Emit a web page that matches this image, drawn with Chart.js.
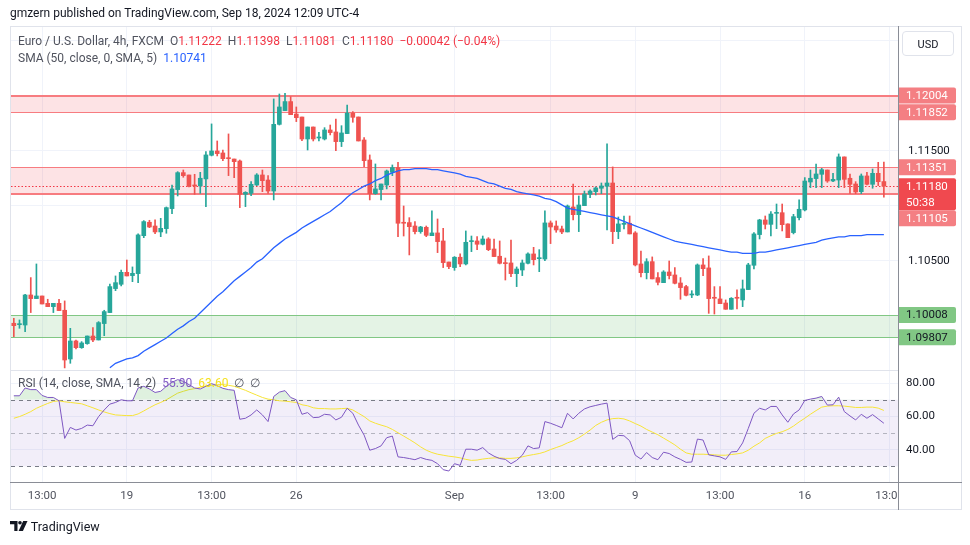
<!DOCTYPE html>
<html>
<head>
<meta charset="utf-8">
<script src="https://cdn.jsdelivr.net/npm/chart.js@4.4.1/dist/chart.umd.min.js"></script>
<style>
  body { margin: 0; background: #fff; font-family: Roboto, "Liberation Sans", sans-serif; }
  #box { position: relative; width: 970px; height: 545px; overflow: hidden; }
  #c { position: absolute; left: 0; top: 0; }
  .t { position: absolute; white-space: nowrap; font-size: 12px; color: #131722; }
  .lg { color: #50535e; }
  .r { color: #f23645; }
  #usd { position: absolute; left: 902px; top: 31px; width: 52px; height: 25px; border: 1px solid #e0e3eb;
         border-radius: 4px; font-size: 11px; line-height: 25px; text-align: center; color: #131722; box-sizing: border-box; }
</style>
</head>
<body>
<div id="box">
  <canvas id="c" width="970" height="545"></canvas>
  <div class="t" style="left:10px;top:6px;">gmzern published on TradingView.com, Sep 18, 2024 12:09 UTC-4</div>
  <div class="t lg" style="left:18px;top:34px;">Euro / U.S. Dollar, 4h, FXCM&nbsp; O<span class="r">1.11222</span>&nbsp; H<span class="r">1.11398</span>&nbsp; L<span class="r">1.11081</span>&nbsp; C<span class="r">1.11180</span>&nbsp; <span class="r">−0.00042 (−0.04%)</span></div>
  <div class="t lg" style="left:18px;top:51px;">SMA (50, close, 0, SMA, 5)&nbsp; <span style="color:#2962ff">1.10741</span></div>
  <div class="t lg" style="left:18px;top:376px;">RSI (14, close, SMA, 14, 2)&nbsp; <span style="color:#7e57c2">55.90</span>&nbsp; <span style="color:#f5e11d">63.60</span>&nbsp; ∅&nbsp; ∅</div>
  <div id="usd">USD</div>
  <div class="t" style="left:10px;top:519px;font-size:12.5px;">
    <svg width="18" height="11" viewBox="0 0 18 11" style="vertical-align:-1px"><path d="M0 0h7.5v10H4.3V3.2H0z" fill="#131722"/><circle cx="10" cy="1.8" r="1.8" fill="#131722"/><path d="M13.2 0h4.3l-4.6 10H8.6z" fill="#131722"/></svg> TradingView
  </div>
</div>
<script>
// 4h candles, EUR/USD FXCM
const open = [1.09934,1.09921,1.09918,1.10191,1.10158,1.10182,1.10115,1.10085,1.10115,1.10052,
 1.09609,1.09773,1.09712,1.09749,1.09818,1.09782,1.09931,1.10031,1.10249,1.10288,
 1.10397,1.10367,1.10385,1.10730,1.10852,1.10818,1.10764,1.10794,1.10976,1.11149,
 1.11303,1.11282,1.11191,1.11182,1.11246,1.11461,1.11500,1.11482,1.11436,1.11427,
 1.11409,1.11106,1.11115,1.11191,1.11282,1.11236,1.11136,1.11742,1.11867,1.11949,
 1.11836,1.11809,1.11609,1.11718,1.11618,1.11609,1.11691,1.11673,1.11585,1.11658,
 1.11845,1.11809,1.11600,1.11418,1.11112,1.11149,1.11191,1.11306,1.11349,1.10849,
 1.10849,1.10818,1.10767,1.10806,1.10730,1.10755,1.10682,1.10491,1.10440,1.10534,
 1.10473,1.10676,1.10682,1.10652,1.10700,1.10609,1.10543,1.10482,1.10482,1.10385,
 1.10418,1.10479,1.10564,1.10521,1.10518,1.10846,1.10818,1.10791,1.10764,1.10991,
 1.10921,1.11003,1.11106,1.11130,1.11161,1.11179,1.11209,1.10767,1.10833,1.10843,
 1.10755,1.10473,1.10394,1.10494,1.10349,1.10303,1.10400,1.10373,1.10300,1.10267,
 1.10191,1.10191,1.10464,1.10437,1.10167,1.10155,1.10118,1.10061,1.10167,1.10146,
 1.10240,1.10461,1.10740,1.10873,1.10833,1.10933,1.10939,1.10837,1.10758,1.10894,
 1.10964,1.11218,1.11249,1.11288,1.11327,1.11227,1.11236,1.11446,1.11252,1.11200,
 1.11130,1.11273,1.11197,1.11297,1.11222];
const high = [1.09979,1.09964,1.10197,1.10349,1.10473,1.10182,1.10152,1.10115,1.10152,1.10137,
 1.09888,1.09782,1.09767,1.09818,1.09894,1.09949,1.10052,1.10291,1.10364,1.10418,
 1.10509,1.10446,1.10746,1.10867,1.10870,1.10873,1.10888,1.10991,1.11191,1.11312,
 1.11327,1.11282,1.11288,1.11306,1.11494,1.11746,1.11591,1.11509,1.11655,1.11427,
 1.11418,1.11130,1.11221,1.11294,1.11327,1.11276,1.11973,1.12018,1.12024,1.11994,
 1.11900,1.11809,1.11718,1.11718,1.11670,1.11712,1.11736,1.11791,1.11730,1.11918,
 1.11858,1.11809,1.11621,1.11464,1.11382,1.11200,1.11327,1.11373,1.11397,1.11000,
 1.10894,1.10858,1.10815,1.10818,1.10955,1.10882,1.10797,1.10491,1.10540,1.10564,
 1.10773,1.10727,1.10721,1.10727,1.10712,1.10700,1.10682,1.10527,1.10691,1.10446,
 1.10509,1.10573,1.10624,1.10603,1.10955,1.10864,1.10864,1.10818,1.11009,1.11200,
 1.11091,1.11136,1.11146,1.11173,1.11209,1.11564,1.11355,1.10900,1.10909,1.10909,
 1.10767,1.10591,1.10521,1.10537,1.10394,1.10412,1.10500,1.10440,1.10349,1.10279,
 1.10230,1.10473,1.10521,1.10546,1.10267,1.10267,1.10146,1.10167,1.10237,1.10327,
 1.10479,1.10758,1.10879,1.10909,1.10949,1.11018,1.11018,1.10837,1.10924,1.11055,
 1.11258,1.11327,1.11382,1.11342,1.11327,1.11297,1.11473,1.11446,1.11291,1.11221,
 1.11291,1.11306,1.11336,1.11397,1.11398];
const low = [1.09812,1.09888,1.09858,1.10031,1.10158,1.10109,1.10085,1.10031,1.10049,1.09528,
 1.09570,1.09700,1.09706,1.09743,1.09767,1.09782,1.09821,1.10031,1.10230,1.10273,
 1.10364,1.10312,1.10303,1.10712,1.10803,1.10749,1.10721,1.10752,1.10930,1.11091,
 1.11261,1.11173,1.11106,1.11115,1.10994,1.11455,1.11455,1.11412,1.11276,1.11258,
 1.10985,1.10994,1.11094,1.11185,1.11130,1.11115,1.11055,1.11736,1.11867,1.11830,
 1.11767,1.11594,1.11509,1.11591,1.11591,1.11600,1.11646,1.11503,1.11540,1.11658,
 1.11761,1.11591,1.11358,1.11055,1.11106,1.11055,1.11155,1.11276,1.10721,1.10727,
 1.10555,1.10746,1.10752,1.10721,1.10730,1.10576,1.10440,1.10430,1.10415,1.10449,
 1.10464,1.10585,1.10603,1.10646,1.10594,1.10540,1.10473,1.10327,1.10358,1.10267,
 1.10367,1.10473,1.10464,1.10403,1.10503,1.10658,1.10761,1.10749,1.10764,1.10873,
 1.10767,1.11003,1.11076,1.11100,1.11112,1.10782,1.10658,1.10703,1.10791,1.10746,
 1.10455,1.10355,1.10337,1.10337,1.10282,1.10303,1.10337,1.10291,1.10152,1.10182,
 1.10167,1.10185,1.10367,1.10024,1.10018,1.10112,1.10061,1.10061,1.10064,1.10085,
 1.10240,1.10427,1.10700,1.10791,1.10727,1.10794,1.10773,1.10712,1.10746,1.10873,
 1.10955,1.11167,1.11167,1.11167,1.11215,1.11221,1.11167,1.11167,1.11115,1.11112,
 1.11112,1.11191,1.11161,1.11185,1.11081];
const close = [1.09912,1.09928,1.10191,1.10158,1.10182,1.10109,1.10085,1.10115,1.10049,1.09600,
 1.09773,1.09712,1.09755,1.09818,1.09782,1.09940,1.10040,1.10267,1.10303,1.10397,
 1.10364,1.10388,1.10737,1.10858,1.10809,1.10764,1.10797,1.10985,1.11155,1.11303,
 1.11276,1.11179,1.11182,1.11252,1.11464,1.11500,1.11476,1.11430,1.11430,1.11403,
 1.11106,1.11124,1.11197,1.11282,1.11230,1.11136,1.11742,1.11900,1.11949,1.11830,
 1.11803,1.11609,1.11718,1.11609,1.11624,1.11691,1.11667,1.11585,1.11664,1.11845,
 1.11806,1.11591,1.11412,1.11112,1.11155,1.11200,1.11318,1.11349,1.10843,1.10843,
 1.10812,1.10767,1.10809,1.10733,1.10755,1.10676,1.10485,1.10449,1.10534,1.10473,
 1.10670,1.10685,1.10652,1.10700,1.10603,1.10540,1.10479,1.10476,1.10385,1.10427,
 1.10482,1.10564,1.10512,1.10527,1.10846,1.10809,1.10782,1.10764,1.11000,1.10921,
 1.11009,1.11109,1.11136,1.11164,1.11182,1.11209,1.10767,1.10837,1.10840,1.10746,
 1.10464,1.10394,1.10494,1.10337,1.10306,1.10400,1.10367,1.10297,1.10258,1.10188,
 1.10200,1.10464,1.10430,1.10158,1.10161,1.10112,1.10061,1.10161,1.10161,1.10246,
 1.10464,1.10746,1.10873,1.10833,1.10927,1.10939,1.10830,1.10712,1.10903,1.10970,
 1.11227,1.11252,1.11291,1.11330,1.11227,1.11242,1.11446,1.11242,1.11197,1.11127,
 1.11273,1.11197,1.11297,1.11221,1.11180];

// SMA 50 (line starts at the bottom edge of the price pane)
const sma50 = [null,null,null,null,null,null,null,null,null,null,
 null,null,null,null,null,null,null,1.0953,1.0957,1.0959,
 1.0961,1.0962,1.0964,1.0968,1.0971,1.0974,1.0977,1.0980,1.0984,1.0988,
 1.0991,1.0995,1.0998,1.1003,1.1008,1.1013,1.1018,1.1022,1.1027,1.1032,
 1.1036,1.1040,1.1044,1.1049,1.1052,1.1057,1.1062,1.1066,1.1070,1.1073,
 1.1076,1.1080,1.1083,1.1086,1.1089,1.1092,1.1095,1.1099,1.1103,1.1108,
 1.1112,1.1115,1.1118,1.1120,1.1123,1.1125,1.1128,1.1130,1.1132,1.1133,
 1.1133,1.1134,1.1134,1.1134,1.1133,1.1133,1.1132,1.1131,1.1130,1.1129,
 1.1127,1.1126,1.1125,1.1123,1.1121,1.1120,1.1118,1.1116,1.1115,1.1113,
 1.1112,1.1111,1.1110,1.1109,1.1107,1.1106,1.1104,1.1101,1.1098,1.1097,
 1.1096,1.1095,1.1094,1.1093,1.1092,1.1091,1.1090,1.1088,1.1086,1.1084,
 1.1082,1.1080,1.1078,1.1076,1.1074,1.1072,1.1070,1.1068,1.1067,1.1066,
 1.1065,1.1064,1.1063,1.1062,1.1061,1.1060,1.1059,1.1058,1.1058,1.1057,
 1.1057,1.1057,1.1058,1.1058,1.1059,1.1060,1.1061,1.1062,1.1063,1.1064,
 1.1065,1.1066,1.1067,1.1069,1.1070,1.1071,1.1072,1.1072,1.1073,1.1073,
 1.1073,1.1074,1.1074,1.1074,1.1074];

// RSI 14 and its SMA 14
const rsi = [72.4,72.4,77.1,76.1,76.1,72.6,71.4,71.4,69.4,46.8,
 53.4,51.8,52.8,54.8,54.4,59.9,63.9,67.4,68.4,70.0,
 69.4,69.4,77.1,78.1,76.5,74.4,75.1,78.1,80.5,82.1,
 81.1,79.1,77.1,76.5,78.1,79.7,78.5,76.9,76.1,75.7,
 58.3,58.9,60.9,63.9,60.9,56.9,72.0,74.6,75.5,71.4,
 70.0,61.3,62.3,59.3,59.5,61.3,60.9,57.9,59.5,64.9,
 61.9,54.8,48.8,39.7,40.7,42.3,47.2,48.2,35.7,35.3,
 34.7,34.0,35.3,34.2,33.6,31.6,28.0,27.2,31.6,30.6,
 40.3,40.3,39.7,41.3,38.1,36.1,34.7,34.2,31.6,33.6,
 36.7,42.3,40.7,41.1,56.9,55.9,54.6,53.2,61.9,58.5,
 61.9,64.5,65.8,66.6,67.4,68.0,46.2,48.6,48.4,45.4,
 36.7,34.4,38.3,35.3,34.0,38.5,37.7,35.7,34.2,32.4,
 32.6,46.4,45.8,36.9,36.3,35.7,34.2,38.7,38.9,44.1,
 52.8,61.9,64.9,63.9,66.0,66.0,60.9,56.5,61.5,63.9,
 69.6,70.4,71.0,72.0,66.8,67.0,71.6,62.9,60.3,57.9,
 61.3,58.9,61.1,58.5,55.9];
const rsiMa = [58.9,59.9,61.3,62.9,64.9,66.4,67.8,69.0,69.4,68.8,
 68.4,68.0,67.6,66.4,65.2,63.9,62.7,61.7,60.9,60.7,
 60.5,60.5,61.5,63.3,65.2,67.0,68.4,70.0,72.0,74.0,
 75.1,76.1,76.7,77.5,78.3,78.7,79.1,79.1,78.7,78.1,
 76.9,75.7,74.2,72.8,71.4,70.4,70.0,69.4,69.2,68.8,
 68.4,67.0,66.4,65.2,64.7,64.7,64.5,64.5,64.7,64.9,
 63.9,61.9,59.9,57.3,55.9,54.8,53.8,52.2,50.2,48.2,
 46.2,44.1,41.7,39.7,38.3,37.3,36.7,36.1,35.7,35.1,
 34.2,33.6,33.8,34.4,34.8,35.1,35.1,34.8,34.8,35.1,
 35.7,36.5,37.1,37.7,38.7,40.1,41.3,42.5,44.1,45.4,
 47.2,49.4,51.8,54.6,56.5,57.9,58.7,58.9,58.5,57.3,
 55.7,54.2,52.2,50.6,49.0,47.0,45.0,42.9,40.3,38.1,
 37.3,37.3,37.3,37.1,36.9,36.7,36.7,37.1,37.5,38.1,
 39.7,42.1,44.1,46.8,48.4,49.8,50.8,52.2,54.2,56.7,
 58.9,61.3,63.5,65.6,66.2,66.4,66.4,66.2,65.8,65.4,
 65.4,65.6,65.6,65.0,63.6];

// drawn zones (price levels)
const zoneLow  = [1.11852, 1.11105, 1.09807];
const zoneHigh = [1.12004, 1.11351, 1.10008];
const zoneKind = ['red', 'red', 'green'];
const lastPrice = 1.11180;
const countdown = '50:38';

// price-axis labels
const markValue = [1.12004, 1.11852, 1.11351, 1.11180, 1.11105, 1.10008, 1.09807];
const markKind  = ['red', 'red', 'red', 'last', 'red', 'green', 'green'];

// axes
const priceGrid = [1.100, 1.105, 1.110, 1.115, 1.120, 1.125];
const priceTickShown = [1.105, 1.115];
const rsiTicks = [40, 60, 80];
const timeTickIdx  = [5, 20, 35, 50, 78, 95, 110, 125, 140, 155];
const timeTickText = ['13:00', '19', '13:00', '26', 'Sep', '13:00', '9', '13:00', '16', '13:00'];
const slots = 157;

const UP = '#26a69a', DOWN = '#ef5350';
const zoneStyle = {
  red:   { fill: 'rgba(242,54,69,0.14)', line: '#f77c80' },
  green: { fill: 'rgba(76,175,80,0.15)', line: '#81c784' }
};
const markStyle = {
  red:   { bg: '#f47f83', fg: '#ffffff' },
  last:  { bg: '#f0494f', fg: '#ffffff' },
  green: { bg: '#81c784', fg: '#131722' }
};

Chart.defaults.font.family = 'Roboto, "Liberation Sans", sans-serif';
Chart.defaults.animation = false;

const labels = Array.from({ length: slots }, (_, i) => i);
const candleColor = close.map((c, i) => c >= open[i] ? UP : DOWN);

const panes = {
  id: 'panes',
  beforeDatasetsDraw(chart) {
    const { ctx, chartArea: a, scales: { y, rsi: r } } = chart;
    const w = a.right - a.left;
    ctx.save();
    // zones
    zoneLow.forEach((lo, i) => {
      const st = zoneStyle[zoneKind[i]];
      const yt = y.getPixelForValue(zoneHigh[i]), yb = y.getPixelForValue(lo);
      ctx.fillStyle = st.fill;
      ctx.fillRect(a.left, yt, w, yb - yt);
      ctx.strokeStyle = st.line;
      const thickTop = i === 0, thickBottom = i === 1;
      ctx.lineWidth = thickTop ? 2 : 1;
      ctx.beginPath(); ctx.moveTo(a.left, Math.round(yt) + (thickTop ? 0 : 0.5)); ctx.lineTo(a.right, Math.round(yt) + (thickTop ? 0 : 0.5)); ctx.stroke();
      ctx.lineWidth = thickBottom ? 2 : 1;
      ctx.beginPath(); ctx.moveTo(a.left, Math.round(yb) + (thickBottom ? 0 : 0.5)); ctx.lineTo(a.right, Math.round(yb) + (thickBottom ? 0 : 0.5)); ctx.stroke();
    });
    // last price dotted line
    const yl = Math.round(y.getPixelForValue(lastPrice)) + 0.5;
    ctx.strokeStyle = '#f23645'; ctx.lineWidth = 1; ctx.setLineDash([1.5, 2]);
    ctx.beginPath(); ctx.moveTo(a.left, yl); ctx.lineTo(a.right, yl); ctx.stroke();
    // RSI band
    const y70 = r.getPixelForValue(70), y30 = r.getPixelForValue(30), y50 = r.getPixelForValue(50);
    ctx.setLineDash([]);
    ctx.fillStyle = 'rgba(126,87,194,0.1)';
    ctx.fillRect(a.left, y70, w, y30 - y70);
    ctx.setLineDash([4, 4]);
    ctx.strokeStyle = '#787b86';
    [y70, y30].forEach(v => { ctx.beginPath(); ctx.moveTo(a.left, Math.round(v) + 0.5); ctx.lineTo(a.right, Math.round(v) + 0.5); ctx.stroke(); });
    ctx.strokeStyle = 'rgba(120,123,134,0.5)';
    ctx.beginPath(); ctx.moveTo(a.left, Math.round(y50) + 0.5); ctx.lineTo(a.right, Math.round(y50) + 0.5); ctx.stroke();
    ctx.setLineDash([]);
    ctx.restore();
  },
  afterDraw(chart) {
    const { ctx, chartArea: a, scales: { y } } = chart;
    ctx.save();
    // hide the part of the time axis under the price scale
    ctx.fillStyle = '#fff';
    ctx.fillRect(a.right + 0.5, a.bottom + 1, 70, 26);
    // pane separator
    ctx.strokeStyle = '#e0e3eb'; ctx.lineWidth = 1;
    ctx.beginPath(); ctx.moveTo(a.left, Math.round(y.bottom) + 0.5); ctx.lineTo(a.right, Math.round(y.bottom) + 0.5); ctx.stroke();
    // outer frame
    ctx.strokeRect(10.5, 26.5, 951, 483);
    // axis borders
    ctx.strokeStyle = '#8a8d96';
    ctx.beginPath(); ctx.moveTo(10, Math.round(a.bottom) + 0.5); ctx.lineTo(962, Math.round(a.bottom) + 0.5); ctx.stroke();
    ctx.beginPath(); ctx.moveTo(Math.round(a.right) + 0.5, 26); ctx.lineTo(Math.round(a.right) + 0.5, 510); ctx.stroke();
    // price labels
    const marks = markValue.map((v, i) => ({ v, k: markKind[i], py: y.getPixelForValue(v) })).sort((p, q) => p.py - q.py);
    let prevBottom = -1e9;
    ctx.font = '11.5px Roboto, "Liberation Sans", sans-serif';
    ctx.textBaseline = 'middle';
    marks.forEach(m => {
      const st = markStyle[m.k];
      const h = m.k === 'last' ? 32 : 16;
      const top = Math.max(m.py - 8, prevBottom);
      prevBottom = top + h;
      ctx.fillStyle = st.bg;
      ctx.beginPath();
      ctx.roundRect(Math.round(a.right) + 1, top, 57, h, [0, 2, 2, 0]);
      ctx.fill();
      ctx.fillStyle = st.fg;
      ctx.fillText(m.v.toFixed(5), a.right + 8, top + 8.5);
      if (m.k === 'last') ctx.fillText(countdown, a.right + 8, top + 24.5);
    });
    ctx.restore();
  }
};

new Chart(document.getElementById('c'), {
  type: 'bar',
  data: {
    labels: labels,
    datasets: [
      { type: 'bar', data: low.map((l, i) => [l, high[i]]), backgroundColor: candleColor,
        barThickness: 1, minBarLength: 1, grouped: false, yAxisID: 'y', order: 4 },
      { type: 'bar', data: open.map((o, i) => [o, close[i]]), backgroundColor: candleColor,
        barThickness: 4, minBarLength: 1, grouped: false, yAxisID: 'y', order: 3 },
      { type: 'line', data: sma50, borderColor: '#2962ff', borderWidth: 1.3, pointRadius: 0,
        yAxisID: 'y', order: 2 },
      { type: 'line', data: rsiMa, borderColor: '#f7e436', borderWidth: 1, pointRadius: 0,
        yAxisID: 'rsi', order: 1 },
      { type: 'line', data: rsi, borderColor: '#7e57c2', borderWidth: 1, pointRadius: 0,
        yAxisID: 'rsi', order: 0,
        fill: { target: { value: 70 }, above: 'rgba(76,175,80,0.18)', below: 'rgba(0,0,0,0)' } }
    ]
  },
  options: {
    responsive: false,
    devicePixelRatio: 1,
    layout: { padding: { left: 11, right: 8, top: 27, bottom: 36 } },
    plugins: { legend: { display: false }, tooltip: { enabled: false } },
    scales: {
      x: {
        type: 'category', offset: true,
        grid: { offset: false, drawTicks: false,
                color: c => timeTickIdx.includes(c.index) ? '#f0f3fa' : 'rgba(0,0,0,0)' },
        border: { display: false },
        ticks: { autoSkip: false, maxRotation: 0, padding: 7, color: '#50535e', font: { size: 11.5 },
                 callback: (v, i) => { const k = timeTickIdx.indexOf(i); return k < 0 ? '' : timeTickText[k]; } },
        afterFit: s => { s.height = 27; }
      },
      y: {
        position: 'right', stack: 'pane', stackWeight: 343,
        min: 1.09509, max: 1.12627,
        grid: { color: '#f0f3fa', drawTicks: false },
        border: { display: false },
        afterBuildTicks: s => { s.ticks = priceGrid.map(v => ({ value: v })); },
        ticks: { padding: 10, color: '#131722', font: { size: 11.5 },
                 callback: v => priceTickShown.some(p => Math.abs(p - v) < 1e-7) ? v.toFixed(5) : '' },
        afterFit: s => { s.width = 64; }
      },
      rsi: {
        position: 'right', stack: 'pane', stackWeight: 112,
        min: 20.6, max: 87.9,
        grid: { color: '#f0f3fa', drawTicks: false },
        border: { display: false },
        afterBuildTicks: s => { s.ticks = rsiTicks.map(v => ({ value: v })); },
        ticks: { padding: 8, color: '#131722', font: { size: 11.5 }, callback: v => v.toFixed(2) },
        afterFit: s => { s.width = 64; }
      }
    }
  },
  plugins: [panes]
});
</script>
</body>
</html>
